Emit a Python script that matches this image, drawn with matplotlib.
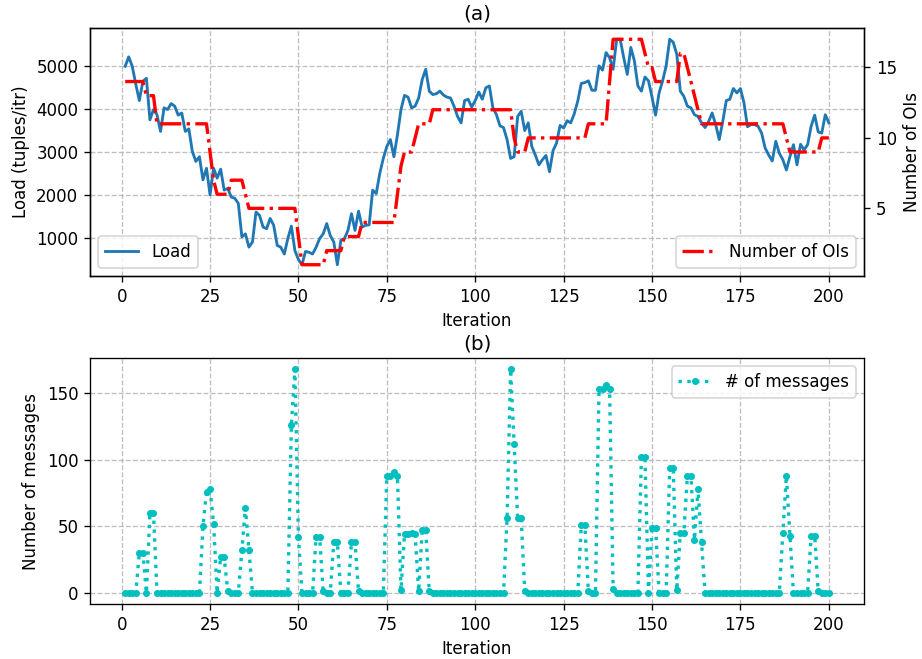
import numpy as np
import matplotlib
matplotlib.use("Agg")
import matplotlib.pyplot as plt
from matplotlib.ticker import MultipleLocator

# --- DATA ---
iterations = np.arange(1, 201)

load = [
    5000, 5220, 5000, 4580, 4200, 4650, 4720, 3750, 3990, 3870,
    3480, 4030, 3990, 4130, 4070, 3860, 3910, 3480, 3540, 3010,
    2780, 2890, 2350, 2620, 2000, 2620, 2390, 2600, 2110, 2150,
    1950, 1920, 1800, 1020, 1090, 780, 900, 1600, 1520, 1250,
    1210, 1450, 1290, 820, 780, 620, 980, 1270, 700, 490,
    370, 680, 660, 620, 780, 980, 1090, 1330, 1050, 900,
    370, 940, 980, 1170, 1560, 1170, 1620, 1250, 1290, 1300,
    2110, 2030, 2500, 2850, 3130, 3290, 2890, 3400, 3990, 4320,
    4280, 4030, 4070, 4260, 4690, 4930, 4420, 4340, 4360, 4420,
    4330, 4280, 4260, 4070, 3830, 3680, 4200, 4230, 4050, 4200,
    4400, 4230, 4500, 4540, 4030, 3870, 3610, 3570, 3290, 2850,
    2890, 3830, 3950, 3500, 3680, 3130, 2930, 2700, 2820, 2920,
    2540, 3030, 3210, 3620, 3560, 3730, 3680, 3890, 4190, 4600,
    4620, 4660, 4440, 4440, 5010, 4910, 5320, 5200, 4930, 5630,
    5630, 5200, 4810, 5440, 5130, 4540, 4420, 4750, 4660, 4280,
    3860, 4380, 4660, 5010, 5630, 5560, 5280, 4420, 4300, 4070,
    4030, 3870, 3830, 3680, 3570, 3710, 3910, 3640, 3290, 3710,
    4200, 4230, 4480, 4380, 4480, 4150, 3590, 3640, 3640, 3600,
    3440, 3090, 2930, 2790, 3250, 2970, 2820, 2580, 2890, 3170,
    2700, 3180, 3050, 3170, 3600, 3860, 3470, 3440, 3870, 3680,
]

num_ois = [
    14, 14, 14, 14, 14, 14, 13, 13, 13, 11,
    11, 11, 11, 11, 11, 11, 11, 11, 11, 11,
    11, 11, 11, 11, 9, 7, 6, 6, 6, 6,
    7, 7, 7, 7, 6, 5, 5, 5, 5, 5,
    5, 5, 5, 5, 5, 5, 5, 5, 5, 3,
    1, 1, 1, 1, 1, 1, 1, 2, 2, 2,
    2, 2, 3, 3, 3, 3, 3, 4, 4, 4,
    4, 4, 4, 4, 4, 4, 4, 6, 8, 9,
    9, 9, 10, 11, 11, 11, 11, 12, 12, 12,
    12, 12, 12, 12, 12, 12, 12, 12, 12, 12,
    12, 12, 12, 12, 12, 12, 12, 12, 12, 12,
    10, 9, 9, 9, 10, 10, 10, 10, 10, 10,
    10, 10, 10, 10, 10, 10, 10, 10, 10, 10,
    10, 11, 11, 11, 11, 11, 11, 14, 17, 17,
    17, 17, 17, 17, 17, 17, 17, 16, 15, 15,
    14, 14, 14, 14, 14, 14, 14, 16, 16, 15,
    14, 13, 12, 11, 11, 11, 11, 11, 11, 11,
    11, 11, 11, 11, 11, 11, 11, 11, 11, 11,
    11, 11, 11, 11, 11, 11, 11, 10, 9, 9,
    9, 9, 9, 9, 9, 9, 9, 10, 10, 10,
]

messages = [
    0, 0, 0, 0, 30, 30, 0, 60, 60, 0,
    0, 0, 0, 0, 0, 0, 0, 0, 0, 0,
    0, 0, 50, 76, 78, 52, 0, 27, 27, 1,
    0, 0, 0, 32, 64, 32, 0, 0, 0, 0,
    0, 0, 0, 0, 0, 0, 0, 126, 168, 42,
    0, 0, 0, 0, 42, 42, 1, 0, 0, 38,
    38, 0, 0, 0, 38, 38, 1, 0, 0, 0,
    0, 0, 0, 0, 88, 88, 91, 88, 2, 44,
    44, 45, 44, 1, 47, 47, 1, 0, 0, 0,
    0, 0, 0, 0, 0, 0, 0, 0, 0, 0,
    0, 0, 0, 0, 0, 0, 0, 0, 56, 168,
    112, 56, 56, 1, 0, 0, 0, 0, 0, 0,
    0, 0, 0, 0, 0, 0, 0, 0, 0, 51,
    51, 1, 0, 0, 153, 153, 156, 153, 3, 0,
    0, 0, 0, 0, 0, 0, 102, 102, 0, 49,
    49, 0, 0, 0, 94, 94, 2, 45, 45, 88,
    88, 40, 78, 38, 0, 0, 0, 0, 0, 0,
    0, 0, 0, 0, 0, 0, 0, 0, 0, 0,
    0, 0, 0, 0, 0, 0, 45, 88, 43, 0,
    0, 0, 0, 0, 43, 43, 1, 0, 0, 0,
]

DPI = 120
fig = plt.figure(figsize=(922 / DPI, 659 / DPI), dpi=DPI)

# axes boxes in pixels: left 90, right 864
left = 90 / 922
width = (864 - 90) / 922

# --- (a) load vs number of OIs ---
ax1 = fig.add_axes([left, 1 - 276 / 659, width, (276 - 28) / 659])
ax1.plot(iterations, load, color='#1f77b4', linewidth=1.7, label='Load')
ax1.set_ylabel('Load (tuples/itr)')
ax1.set_xlabel('Iteration')
ax1.set_title('(a)', pad=5)
ax1.grid(True, linestyle='--', color='#b0b0b0', alpha=0.8)
ax1.legend(loc='lower left')

ax2 = ax1.twinx()
ax2.plot(iterations, num_ois, color='red', linestyle='-.', linewidth=2,
         label='Number of OIs')
ax2.yaxis.set_major_locator(MultipleLocator(5))
ax2.set_ylabel('Number of OIs')
ax2.legend(loc='lower right')

# --- (b) messages ---
ax3 = fig.add_axes([left, 1 - 604 / 659, width, (604 - 358) / 659])
ax3.plot(iterations, messages, color='c', linestyle=':', linewidth=2,
         marker='o', markersize=3.2, label='# of messages')
ax3.yaxis.set_major_locator(MultipleLocator(50))
ax3.set_ylabel('Number of messages')
ax3.set_xlabel('Iteration')
ax3.set_title('(b)', pad=5)
ax3.grid(True, linestyle='--', color='#b0b0b0', alpha=0.8)
ax3.legend(loc='upper right')

fig.savefig('out.png', dpi=DPI)
